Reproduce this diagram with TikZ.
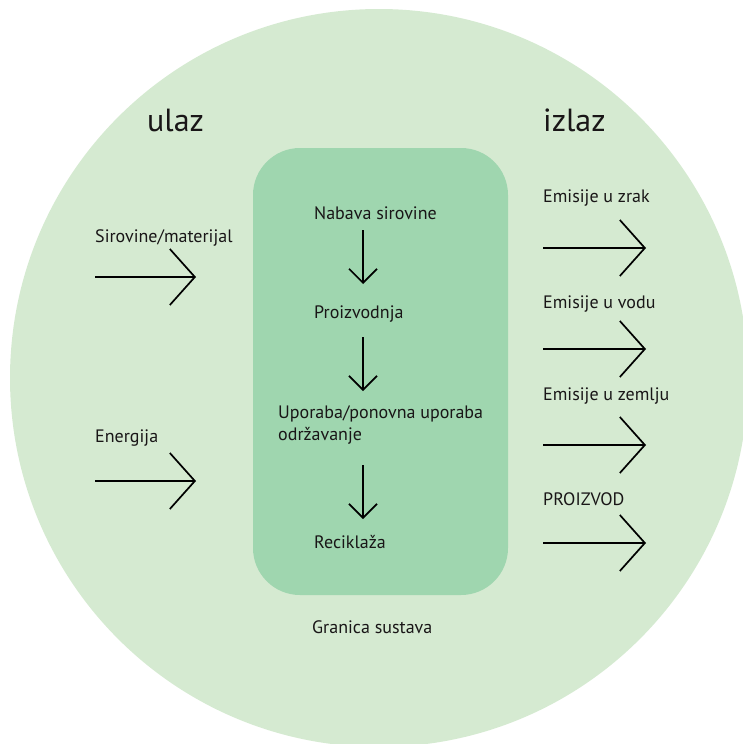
\documentclass[tikz,border=0pt]{standalone}
\usepackage{fontspec}
\setmainfont{PT Sans}
\usetikzlibrary{arrows.meta,positioning}
\definecolor{circlegreen}{RGB}{213,234,209}
\definecolor{boxgreen}{RGB}{159,214,175}
\definecolor{inkgray}{RGB}{25,22,23}

\begin{document}
\begin{tikzpicture}[x=1pt, y=-1pt,
		lbl/.style={anchor=base west, inner sep=0pt, text=inkgray, font=\fontsize{18}{22}\selectfont},
		head/.style={anchor=base west, inner sep=0pt, text=inkgray, font=\fontsize{32}{38}\selectfont},
		bigarrow/.style={line width=1.7pt, -{Straight Barb[length=25pt, width=56pt]}},
		smallarrow/.style={line width=1.7pt, -{Straight Barb[length=14pt, width=28pt]}}]
		\useasboundingbox (0,0) rectangle (742,744);
		\fill[circlegreen] (379,378) circle[radius=369pt];
		\fill[boxgreen, rounded corners=47pt] (253,148) rectangle (508,595);

		\node[head] (ulaz) at (147,131) {ulaz};
		\node[head] (izlaz) at (543,131) {izlaz};

		% ulaz
		\node[lbl] (sir) at (95,242) {Sirovine/materijal};
		\node[lbl] (ene) at (95,442) {Energija};
		\coordinate (sirA) at (95,277);
		\coordinate (sirB) at (196,277);
		\coordinate (eneA) at (95,481);
		\coordinate (eneB) at (196,481);
		\draw[bigarrow] (sirA) -- (sirB);
		\draw[bigarrow] (eneA) -- (eneB);

		% sustav
		\node[lbl] (nab) at (314,219) {Nabava sirovine};
		\node[lbl] (pro) at (314,318) {Proizvodnja};
		\node[lbl] (upo) at (278,418) {Uporaba/ponovna uporaba};
		\node[lbl] (odr) at (278,440) {održavanje};
		\node[lbl] (rec) at (314,548) {Reciklaža};
		\draw[smallarrow] ([xshift=49pt, yshift=-11pt]nab.base west) -- ([xshift=49pt, yshift=34pt]pro.base west);
		\draw[smallarrow] ([xshift=49pt, yshift=-19pt]pro.base west) -- ([xshift=85pt, yshift=27pt]upo.base west);
		\draw[smallarrow] ([xshift=85pt, yshift=-25pt]odr.base west) -- ([xshift=49pt, yshift=29pt]rec.base west);
		\node[lbl] (gra) at (312,633) {Granica sustava};

		% izlaz
		\foreach \name/\txt/\yb/\ya in {zrak/Emisije u zrak/202/248, vodu/Emisije u vodu/308/349, zem/Emisije u zemlju/400/445, prod/PROIZVOD/505/543} {
				\node[lbl] (\name) at (543,\yb) {\txt};
				\coordinate (\name A) at (543,\ya);
				\coordinate (\name B) at (646,\ya);
				\draw[bigarrow] (\name A) -- (\name B);
			}
	\end{tikzpicture}
\end{document}
